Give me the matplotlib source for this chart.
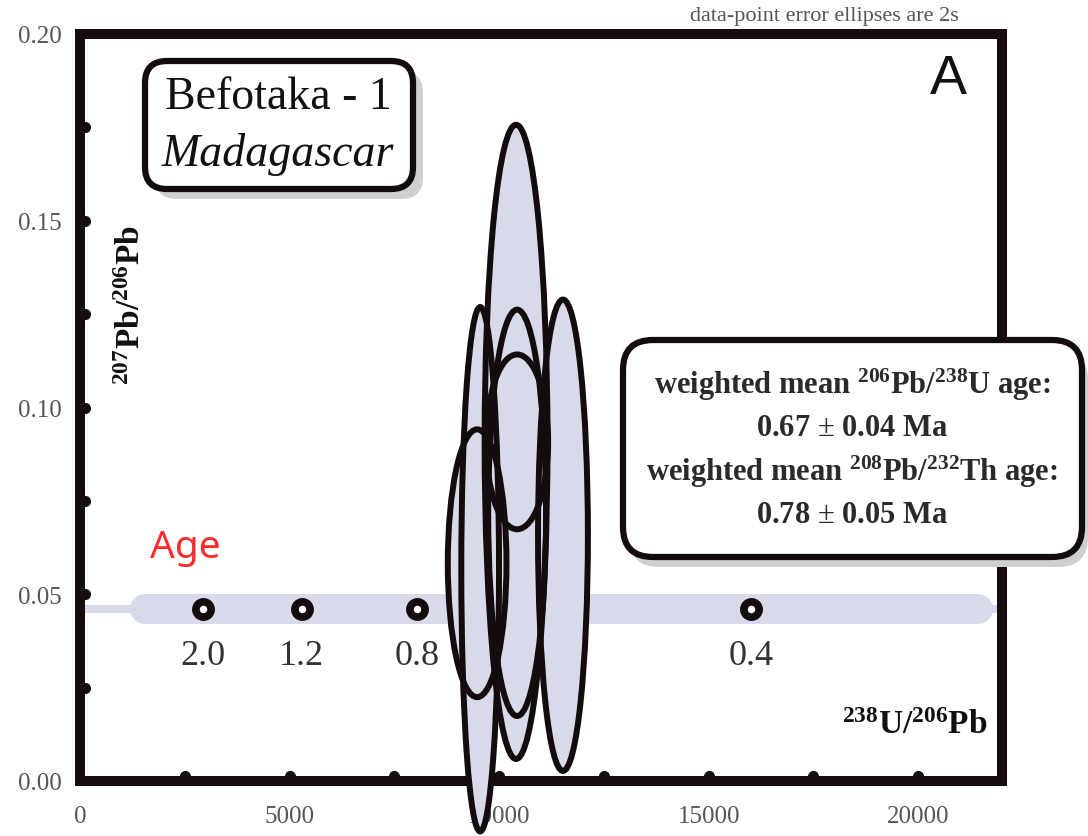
import matplotlib
matplotlib.use('Agg')
import matplotlib.pyplot as plt
from matplotlib.patches import Ellipse, FancyBboxPatch
from matplotlib.transforms import offset_copy, IdentityTransform

W, H, DPI = 1088, 837, 100

plt.rcParams['mathtext.fontset'] = 'custom'
plt.rcParams['mathtext.rm'] = 'Liberation Serif'
plt.rcParams['mathtext.it'] = 'Liberation Serif:italic'
plt.rcParams['mathtext.bf'] = 'Liberation Serif:bold'

# ---------------- data ----------------
x_ticks = [0, 5000, 10000, 15000, 20000]
x_tick_labels = ['0', '5000', '10000', '15000', '20000']
y_ticks = [0.00, 0.05, 0.10, 0.15, 0.20]
y_tick_labels = ['0.00', '0.05', '0.10', '0.15', '0.20']
x_dots = [2500, 5000, 7500, 10000, 12500, 15000, 17500, 20000]
y_dots = [0.025, 0.05, 0.075, 0.10, 0.125, 0.15, 0.175]

concordia_y = 0.046
concordia_band_x = [1550, 21430]
concordia_line_x = [0, 22000]

age_labels = ['2.0', '1.2', '0.8', '0.4']
age_x = [2930, 5290, 8050, 16020]

ell_x = [10405, 9548, 11524, 10430, 9476, 10430]
ell_y = [0.0908, 0.0567, 0.0658, 0.0718, 0.0583, 0.0908]
ell_w = [1500, 900, 1190, 1380, 1400, 1480]
ell_h = [0.1698, 0.1404, 0.1262, 0.1088, 0.0717, 0.0468]

# ---------------- style ----------------
FILL = '#d8daea'
EDGE = '#140c0c'
SPINE = '#150d0d'
TICKC = '#555555'
SERIF = 'Liberation Serif'

fig = plt.figure(figsize=(W / DPI, H / DPI), dpi=DPI)
ax = fig.add_axes([80 / W, 1 - 782 / H, (1002 - 80) / W, (782 - 35) / H])
ax.set_xlim(0, 22000)
ax.set_ylim(0, 0.2)

for s in ax.spines.values():
    s.set_linewidth(7.2)
    s.set_color(SPINE)
    s.set_capstyle('projecting')

ax.set_xticks(x_ticks)
ax.set_xticklabels(x_tick_labels, fontfamily=SERIF, fontsize=18, color=TICKC)
ax.set_yticks(y_ticks)
ax.set_yticklabels(y_tick_labels, fontfamily=SERIF, fontsize=18, color=TICKC)
ax.tick_params(axis='x', length=0, pad=17)
ax.tick_params(axis='y', length=0, pad=13)

# dots on the inner side of spines
tr_up = offset_copy(ax.transData, fig=fig, x=0, y=5, units='dots')
tr_right = offset_copy(ax.transData, fig=fig, x=5, y=0, units='dots')
ax.plot(x_dots, [0] * len(x_dots), 'o', ms=7, color=SPINE, transform=tr_up,
        clip_on=False, zorder=2.6)
ax.plot([0] * len(y_dots), y_dots, 'o', ms=7, color=SPINE, transform=tr_right,
        clip_on=False, zorder=2.6)

# concordia
ax.plot(concordia_line_x, [concordia_y] * 2, color=FILL, lw=5.8,
        solid_capstyle='butt', zorder=2)
ax.plot(concordia_band_x, [concordia_y] * 2, color=FILL, lw=21.6,
        solid_capstyle='round', zorder=2)
ax.plot(age_x, [concordia_y] * len(age_x), 'o', ms=11, mfc='white',
        mec=EDGE, mew=5.5, zorder=2.2, clip_on=False)
for lab, xv in zip(age_labels, age_x):
    ax.annotate(lab, (xv, concordia_y), xytext=(0, -33), textcoords='offset points',
                ha='center', va='center', fontfamily=SERIF, fontsize=26,
                color='#333333', zorder=2.2)

# ellipses: fills then edges
for xc, yc, w, h in zip(ell_x, ell_y, ell_w, ell_h):
    ax.add_patch(Ellipse((xc, yc), w, h, facecolor=FILL, edgecolor='none',
                         clip_on=False, zorder=3))
for xc, yc, w, h in zip(ell_x, ell_y, ell_w, ell_h):
    ax.add_patch(Ellipse((xc, yc), w, h, facecolor='none', edgecolor=EDGE,
                         lw=4.3, clip_on=False, zorder=3.1))

# labels
def fx(px):
    return px / W

def fy(py):
    return 1 - py / H

fig.text(fx(915), fy(726), r'$^{\mathbf{238}}$U/$^{\mathbf{206}}$Pb', fontfamily=SERIF,
         fontweight='bold', fontsize=24, ha='center', va='center', color='#111111')
fig.text(fx(132), fy(305), r'$^{\mathbf{207}}$Pb/$^{\mathbf{206}}$Pb', fontfamily=SERIF,
         fontweight='bold', fontsize=24, ha='center', va='center', rotation=90,
         color='#111111')
fig.text(fx(824), fy(17), 'data-point error ellipses are 2s', fontfamily=SERIF,
         fontsize=16, ha='center', va='center', color='#555555')
fig.text(fx(948), fy(80), 'A', fontfamily='Liberation Sans', fontsize=40,
         ha='center', va='center', color='#111111')
fig.text(fx(185), fy(548), 'Age', fontfamily='Noto Sans', fontsize=28,
         ha='center', va='center', color='#ff2a2a')

# boxes in pixel coordinates
def box(x0, y0, x1, y1, r, lw, sdx, sdy):
    sh = FancyBboxPatch((x0 + sdx, H - y1 - sdy), x1 - x0, y1 - y0,
                        boxstyle=f'round,pad=0,rounding_size={r}',
                        transform=IdentityTransform(), facecolor='#cfcfcf',
                        edgecolor='none', zorder=5)
    bx = FancyBboxPatch((x0, H - y1), x1 - x0, y1 - y0,
                        boxstyle=f'round,pad=0,rounding_size={r}',
                        transform=IdentityTransform(), facecolor='white',
                        edgecolor=EDGE, lw=lw, zorder=6)
    fig.add_artist(sh)
    fig.add_artist(bx)

box(145, 62, 413, 190, 22, 4.5, 10, 10)
box(623, 341, 1082, 558, 30, 4.5, 6, 10)

fig.text(fx(278), fy(98), 'Befotaka - 1', fontfamily=SERIF, fontsize=33,
         ha='center', va='center', color='#111111', zorder=7)
fig.text(fx(278), fy(155), 'Madagascar', fontfamily=SERIF, style='italic',
         fontsize=33, ha='center', va='center', color='#111111', zorder=7)

box_lines = [r'weighted mean $^{\mathbf{206}}$Pb/$^{\mathbf{238}}$U age:',
             r'0.67 $\pm$ 0.04 Ma',
             r'weighted mean $^{\mathbf{208}}$Pb/$^{\mathbf{232}}$Th age:',
             r'0.78 $\pm$ 0.05 Ma']
for i, line in enumerate(box_lines):
    fig.text(fx(852), fy(385 + 43.5 * i), line, fontfamily=SERIF, fontweight='bold',
             fontsize=22, ha='center', va='center', color='#2a2a2a', zorder=7)

fig.savefig('out.png', dpi=DPI)
